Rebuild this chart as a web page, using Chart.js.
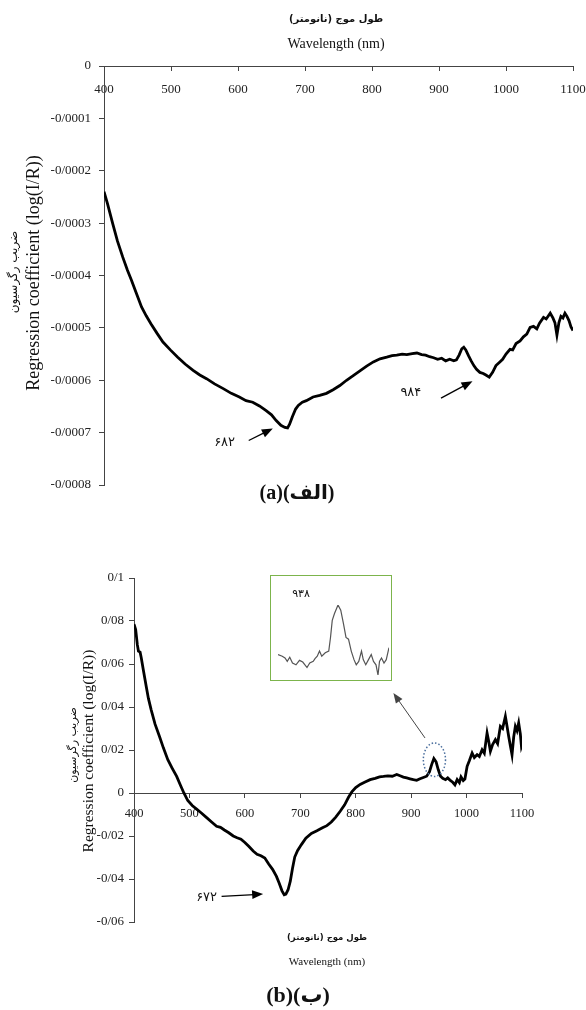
<!DOCTYPE html>
<html lang="fa">
<head>
  <meta charset="UTF-8">
  <title>ضریب رگرسیون</title>
  <script src="https://cdn.jsdelivr.net/npm/chart.js"></script>
  <style>
    body {
      margin: 0;
      background: #fff;
    }
    .page {
      position: relative;
      width: 586px;
      height: 1010px;
      overflow: hidden;
      font-family: "Liberation Serif", "DejaVu Sans", serif;
      color: #111;
    }
    canvas { position: absolute; left: 0; }
    .txt {
      position: absolute;
      white-space: nowrap;
      transform: translate(-50%, -50%);
      line-height: 1;
    }
    .fa { font-family: "DejaVu Sans", sans-serif; font-weight: bold; }
    .rot { transform: translate(-50%, -50%) rotate(-90deg); }
    .cap { font-weight: bold; font-size: 20px; }
    .inset {
      position: absolute;
      left: 270px; top: 575px;
      width: 120px; height: 104px;
      border: 1.5px solid #7cb44c;
    }
    .inset canvas { top: 0; }
  </style>
</head>
<body>
<div class="page">
  <canvas id="chartA" width="586" height="520" style="top:0"></canvas>
  <canvas id="chartB" width="586" height="490" style="top:520px"></canvas>
  <div class="inset"><canvas id="chartInset" width="123" height="107"></canvas></div>

  <!-- chart (a) titles -->
  <div class="txt fa" style="left:336px; top:19px; font-size:10px;" dir="rtl">طول موج (نانومتر)</div>
  <div class="txt" style="left:336px; top:44px; font-size:14px;">Wavelength (nm)</div>
  <div class="txt rot fa" style="left:13px; top:272px; font-size:12px; font-weight:normal;" dir="rtl">ضریب رگرسیون</div>
  <div class="txt rot" style="left:33px; top:273px; font-size:18px;">Regression coefficient (log(I/R))</div>
  <div class="txt cap" style="left:297px; top:492px;" dir="ltr">(a)(الف)</div>

  <!-- chart (b) titles -->
  <div class="txt rot fa" style="left:72px; top:745px; font-size:11px; font-weight:normal;" dir="rtl">ضریب رگرسیون</div>
  <div class="txt rot" style="left:88px; top:751px; font-size:15.5px;">Regression coefficient (log(I/R))</div>
  <div class="txt fa" style="left:327px; top:937px; font-size:8.5px;" dir="rtl">طول موج (نانومتر)</div>
  <div class="txt" style="left:327px; top:961px; font-size:11px;">Wavelength (nm)</div>
  <div class="txt cap" style="left:298px; top:995px; font-size:22px;" dir="ltr">(b)(ب)</div>
  <div class="txt fa" style="left:301px; top:593px; font-size:11px; font-weight:normal;">۹۳۸</div>
</div>

<script>
  // spectrum (a): wavelength (nm) and regression coefficient
  const nmA = [400, 405, 413, 420, 428, 435, 441, 448, 456, 463, 470, 479, 488, 499, 510, 521, 533, 543, 553, 565,
    578, 590, 602, 612, 622, 632, 642, 650, 657, 664, 670, 674, 677, 681, 686, 690, 696, 702, 712, 722,
    732, 742, 752, 762, 772, 782, 792, 802, 812, 822, 830, 837, 845, 852, 860, 867, 874, 880, 886, 892,
    898, 904, 910, 916, 922, 926, 930, 934, 937, 940, 944, 948, 952, 956, 961, 966, 970, 975, 980, 985,
    990, 995, 1000, 1006, 1010, 1015, 1021, 1026, 1031, 1036, 1041, 1046, 1050, 1056, 1060, 1066, 1070, 1073, 1076, 1079,
    1082, 1085, 1088, 1091, 1094, 1097, 1100];
  const coefA = [-0.000240, -0.000262, -0.000301, -0.000334, -0.000365, -0.000390, -0.000409, -0.000433, -0.000460, -0.000477,
    -0.000492, -0.000510, -0.000527, -0.000542, -0.000556, -0.000569, -0.000581, -0.000590, -0.000597, -0.000607,
    -0.000616, -0.000625, -0.000632, -0.000639, -0.000642, -0.000649, -0.000658, -0.000666, -0.000677, -0.000686,
    -0.000690, -0.000691, -0.000684, -0.000670, -0.000655, -0.000648, -0.000642, -0.000639, -0.000632, -0.000629,
    -0.000625, -0.000618, -0.000610, -0.000600, -0.000591, -0.000582, -0.000573, -0.000565, -0.000559, -0.000556,
    -0.000553, -0.000552, -0.000550, -0.000551, -0.000549, -0.000548, -0.000551, -0.000552, -0.000555, -0.000557,
    -0.000560, -0.000558, -0.000563, -0.000560, -0.000563, -0.000561, -0.000552, -0.000540, -0.000537, -0.000542,
    -0.000553, -0.000563, -0.000572, -0.000579, -0.000585, -0.000587, -0.000590, -0.000594, -0.000585, -0.000572,
    -0.000566, -0.000560, -0.000550, -0.000541, -0.000542, -0.000530, -0.000525, -0.000517, -0.000512, -0.000499,
    -0.000497, -0.000502, -0.000491, -0.000480, -0.000483, -0.000472, -0.000481, -0.000490, -0.000514, -0.000490,
    -0.000478, -0.000481, -0.000472, -0.000478, -0.000486, -0.000498, -0.000505];

  // spectrum (b)
  const nmB = [400, 403, 406, 408, 411, 413, 417, 422, 426, 431, 438, 446, 453, 461, 469, 477, 484, 490, 497, 505,
    513, 521, 530, 540, 549, 556, 563, 571, 579, 586, 593, 600, 607, 615, 622, 629, 636, 643, 650, 657,
    662, 667, 671, 674, 678, 682, 686, 690, 695, 702, 710, 720, 730, 740, 748, 756, 764, 772, 780, 787,
    793, 800, 808, 816, 826, 835, 843, 850, 858, 866, 874, 880, 886, 892, 898, 904, 910, 916, 922, 928,
    933, 937, 941, 945, 949, 953, 957, 962, 966, 970, 975, 979, 983, 987, 990, 994, 997, 1001, 1005, 1010,
    1014, 1019, 1023, 1028, 1032, 1037, 1040, 1043, 1047, 1052, 1056, 1061, 1065, 1070, 1073, 1076, 1079, 1082, 1085, 1088,
    1091, 1094, 1097, 1099, 1100];
  const coefB = [0.0785, 0.0760, 0.0690, 0.0660, 0.0655, 0.0630, 0.0570, 0.0496, 0.0440, 0.0387,
    0.0320, 0.0263, 0.0210, 0.0155, 0.0115, 0.0077, 0.0035, 0.0000, -0.0035, -0.0058,
    -0.0075, -0.0092, -0.0112, -0.0135, -0.0155, -0.0160, -0.0172, -0.0185, -0.0200, -0.0208,
    -0.0215, -0.0230, -0.0248, -0.0270, -0.0285, -0.0292, -0.0302, -0.0330, -0.0355, -0.0388,
    -0.0420, -0.0455, -0.0473, -0.0470, -0.0450, -0.0410, -0.0350, -0.0298, -0.0268, -0.0240,
    -0.0210, -0.0188, -0.0176, -0.0162, -0.0152, -0.0135, -0.0112, -0.0085, -0.0055, -0.0020,
    0.0005, 0.0025, 0.0040, 0.0050, 0.0062, 0.0068, 0.0075, 0.0077, 0.0080, 0.0078,
    0.0086, 0.0080, 0.0074, 0.0070, 0.0066, 0.0062, 0.0059, 0.0066, 0.0072, 0.0078,
    0.0098, 0.0132, 0.0160, 0.0145, 0.0108, 0.0078, 0.0068, 0.0062, 0.0070, 0.0060,
    0.0050, 0.0038, 0.0062, 0.0048, 0.0075, 0.0058, 0.0065, 0.0124, 0.0150, 0.0186,
    0.0165, 0.0178, 0.0170, 0.0201, 0.0185, 0.0279, 0.0240, 0.0194, 0.0225, 0.0248,
    0.0230, 0.0310, 0.0300, 0.0356, 0.0310, 0.0263, 0.0220, 0.0178, 0.0260, 0.0310,
    0.0290, 0.0326, 0.0275, 0.0217, 0.0225];

  // close-up of the 938 nm peak
  const nmInset = [914.0, 915.7, 916.8, 917.7, 918.7, 919.8, 921.2, 922.6, 923.9, 925.6, 926.7, 928.1, 928.8, 929.7,
    930.6, 931.5, 932.9, 934.3, 935.0, 935.7, 936.6, 938.0, 939.1, 940.2, 941.2, 942.2, 943.3, 944.4,
    945.3, 946.3, 947.4, 948.1, 949.1, 950.2, 951.3, 952.2, 953.2, 954.0, 954.6, 955.4, 956.4, 957.3, 958.4];
  const coefInset = [0.00771, 0.00743, 0.00714, 0.00657, 0.00726, 0.00629, 0.00600, 0.00674, 0.00646, 0.00554,
    0.00629, 0.00657, 0.00703, 0.00743, 0.00829, 0.00743, 0.00800, 0.00829, 0.01057, 0.01343,
    0.01457, 0.01600, 0.01514, 0.01286, 0.01057, 0.01029, 0.00829, 0.00686, 0.00600, 0.00657,
    0.00829, 0.00686, 0.00600, 0.00686, 0.00771, 0.00657, 0.00600, 0.00429, 0.00657, 0.00714,
    0.00629, 0.00686, 0.00886];

  // axis ticks
  const xTicks = [400, 500, 600, 700, 800, 900, 1000, 1100];
  const yTicksA = [0, -0.0001, -0.0002, -0.0003, -0.0004, -0.0005, -0.0006, -0.0007, -0.0008];
  const yTicksB = [0.1, 0.08, 0.06, 0.04, 0.02, 0, -0.02, -0.04, -0.06];

  const toPoints = (xs, ys) => xs.map((x, i) => ({ x: x, y: ys[i] }));
  // Persian decimal separator
  const faNum = v => parseFloat(v.toFixed(6)).toString().replace('.', '/');

  function drawArrow(ctx, x1, y1, x2, y2, color, width, head) {
    const ang = Math.atan2(y2 - y1, x2 - x1);
    ctx.save();
    ctx.strokeStyle = color;
    ctx.fillStyle = color;
    ctx.lineWidth = width;
    ctx.beginPath();
    ctx.moveTo(x1, y1);
    ctx.lineTo(x2 - Math.cos(ang) * head * 0.8, y2 - Math.sin(ang) * head * 0.8);
    ctx.stroke();
    ctx.beginPath();
    ctx.moveTo(x2, y2);
    ctx.lineTo(x2 - head * Math.cos(ang) + head * 0.4 * Math.sin(ang), y2 - head * Math.sin(ang) - head * 0.4 * Math.cos(ang));
    ctx.lineTo(x2 - head * Math.cos(ang) - head * 0.4 * Math.sin(ang), y2 - head * Math.sin(ang) + head * 0.4 * Math.cos(ang));
    ctx.closePath();
    ctx.fill();
    ctx.restore();
  }

  // arrows, labels and ellipse, all given in data coordinates
  const notesPlugin = {
    id: 'notes',
    afterDatasetsDraw(chart, args, opts) {
      const ctx = chart.ctx, xs = chart.scales.x, ys = chart.scales.y;
      (opts.arrows || []).forEach(a => {
        drawArrow(ctx, xs.getPixelForValue(a.from[0]), ys.getPixelForValue(a.from[1]),
          xs.getPixelForValue(a.to[0]), ys.getPixelForValue(a.to[1]), a.color, a.width, a.head);
      });
      (opts.labels || []).forEach(l => {
        ctx.save();
        ctx.font = '13px "DejaVu Sans"';
        ctx.fillStyle = '#111';
        ctx.textAlign = 'center';
        ctx.textBaseline = 'middle';
        ctx.fillText(l.text, xs.getPixelForValue(l.at[0]), ys.getPixelForValue(l.at[1]));
        ctx.restore();
      });
      (opts.ellipses || []).forEach(e => {
        const cx = xs.getPixelForValue(e.at[0]), cy = ys.getPixelForValue(e.at[1]);
        const rx = Math.abs(xs.getPixelForValue(e.at[0] + e.rx) - cx);
        const ry = Math.abs(ys.getPixelForValue(e.at[1] + e.ry) - cy);
        ctx.save();
        ctx.strokeStyle = '#4b6f9e';
        ctx.lineWidth = 1.5;
        ctx.setLineDash([1.5, 2]);
        ctx.beginPath();
        ctx.ellipse(cx, cy, rx, ry, 0, 0, Math.PI * 2);
        ctx.stroke();
        ctx.restore();
      });
    }
  };

  function axisOptions(yMin, yMax, yTicks, yWidth, tick) {
    return {
      x: {
        type: 'linear',
        min: 400, max: 1100,
        position: { y: 0 },
        afterBuildTicks: s => { s.ticks = xTicks.map(v => ({ value: v })); },
        // end labels may overhang the plot edge
        afterFit: s => { s.paddingLeft = 0; s.paddingRight = 0; },
        grid: { drawOnChartArea: false, tickLength: 4, color: '#444' },
        border: { color: '#444', width: 1 },
        ticks: { color: '#222', padding: tick.xPad, font: { family: 'Liberation Serif', size: tick.xSize },
          callback: v => String(v) }
      },
      y: {
        type: 'linear',
        min: yMin, max: yMax,
        afterBuildTicks: s => { s.ticks = yTicks.map(v => ({ value: v })); },
        afterFit: s => { s.width = yWidth; },
        grid: { drawOnChartArea: false, tickLength: 5, color: '#444' },
        border: { color: '#444', width: 1 },
        ticks: { color: '#222', padding: tick.yPad, font: { family: 'Liberation Serif', size: tick.ySize },
          callback: v => faNum(v) }
      }
    };
  }

  const lineData = (xs, ys, color, width) => ({
    datasets: [{
      data: toPoints(xs, ys),
      borderColor: color,
      borderWidth: width,
      pointRadius: 0,
      tension: 0,
      fill: false
    }]
  });

  new Chart(document.getElementById('chartA'), {
    type: 'line',
    data: lineData(nmA, coefA, '#000', 2.8),
    options: {
      responsive: false,
      animation: false,
      layout: { padding: { left: 0, right: 13, top: 66, bottom: 35 } },
      scales: axisOptions(-0.0008, 0, yTicksA, 104, { xPad: 12, xSize: 13, yPad: 8, ySize: 13 }),
      plugins: {
        legend: { display: false },
        tooltip: { enabled: false },
        notes: {
          arrows: [
            { from: [616, -0.000715], to: [652, -0.000692], color: '#000', width: 1.3, head: 11 },
            { from: [903, -0.000634], to: [950, -0.000602], color: '#000', width: 1.3, head: 11 }
          ],
          labels: [
            { text: '۶۸۲', at: [580, -0.000719] },
            { text: '۹۸۴', at: [858, -0.000624] }
          ]
        }
      }
    },
    plugins: [notesPlugin]
  });

  new Chart(document.getElementById('chartB'), {
    type: 'line',
    data: lineData(nmB, coefB, '#000', 2.8),
    options: {
      responsive: false,
      animation: false,
      layout: { padding: { left: 0, right: 64, top: 58, bottom: 88 } },
      scales: axisOptions(-0.06, 0.1, yTicksB, 134, { xPad: 9, xSize: 12.5, yPad: 5, ySize: 13 }),
      plugins: {
        legend: { display: false },
        tooltip: { enabled: false },
        notes: {
          arrows: [
            { from: [558, -0.0481], to: [633, -0.0470], color: '#000', width: 1.3, head: 11 },
            { from: [925, 0.0256], to: [868, 0.0465], color: '#444', width: 1, head: 10 }
          ],
          labels: [
            { text: '۶۷۲', at: [531, -0.0488] }
          ],
          ellipses: [
            { at: [942, 0.0155], rx: 20, ry: 0.0078 }
          ]
        }
      }
    },
    plugins: [notesPlugin]
  });

  new Chart(document.getElementById('chartInset'), {
    type: 'line',
    data: lineData(nmInset, coefInset, '#555', 1.2),
    options: {
      responsive: false,
      animation: false,
      layout: { padding: { left: 7, right: 5, top: 29, bottom: 8 } },
      scales: {
        x: { type: 'linear', display: false, min: Math.min(...nmInset), max: Math.max(...nmInset) },
        y: { type: 'linear', display: false, min: Math.min(...coefInset), max: Math.max(...coefInset) }
      },
      plugins: { legend: { display: false }, tooltip: { enabled: false } }
    }
  });
</script>
</body>
</html>
